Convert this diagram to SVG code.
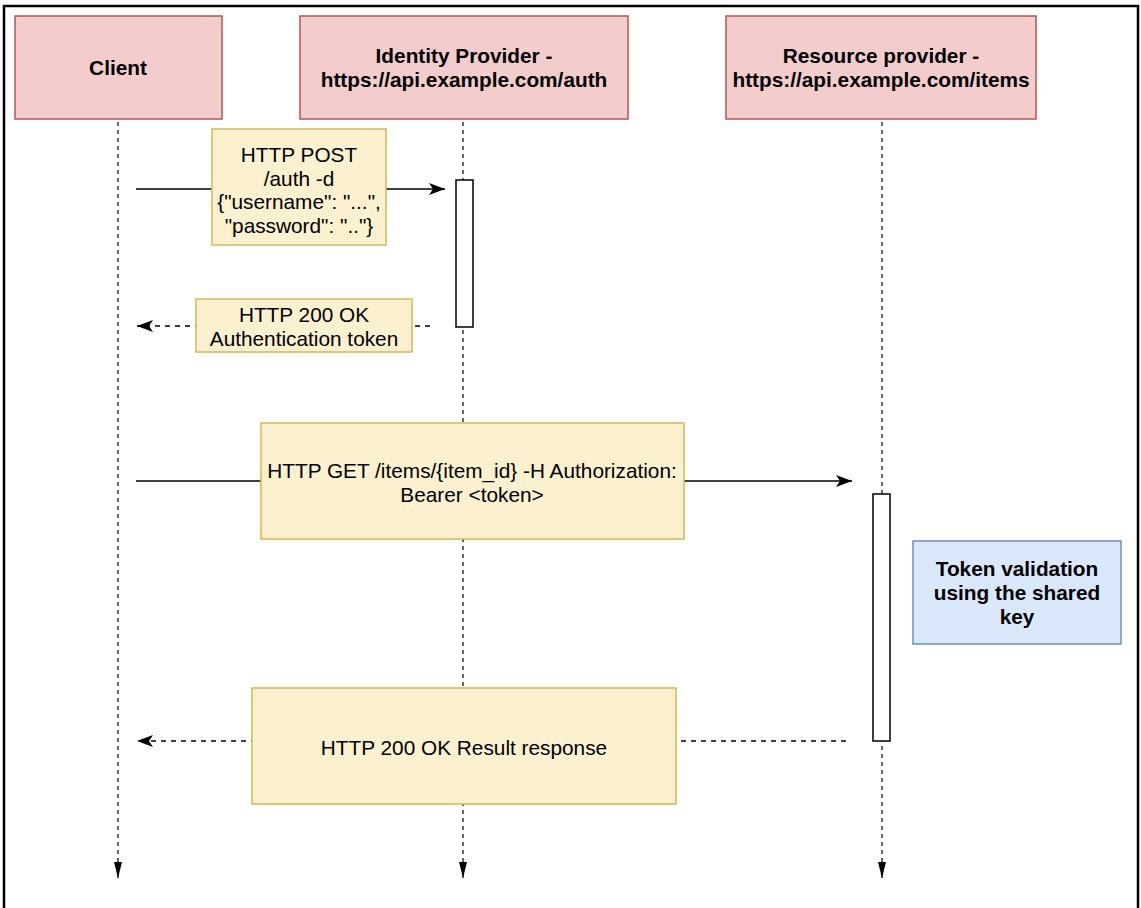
<svg xmlns="http://www.w3.org/2000/svg" width="1141" height="908" viewBox="0 0 1141 908">
<style>
.actor{fill:#f2cdcc;stroke:#b85450;stroke-width:1.5}
.note{fill:#fcf1cf;stroke:#d6b656;stroke-width:1.5}
.blue{fill:#dae8fc;stroke:#6c8ebf;stroke-width:1.5}
.act{fill:#fff;stroke:#000;stroke-width:1.5}
.life{stroke:#000;stroke-width:1.2;stroke-dasharray:4 4;fill:none}
.msg{stroke:#000;stroke-width:1.5;fill:none}
.ret{stroke:#000;stroke-width:1.5;stroke-dasharray:5 5;fill:none}
text{font-family:"Liberation Sans",Arial,sans-serif;font-size:20.8px;fill:#000;text-anchor:middle}
.b{font-weight:bold}
</style>
<defs>
<marker id="arr" markerWidth="18" markerHeight="14" refX="16" refY="7" orient="auto" markerUnits="userSpaceOnUse">
<path d="M0,1 L16,7 L0,13 L4,7 Z" fill="#000"/>
</marker>
<marker id="end" markerWidth="10" markerHeight="18" refX="5" refY="16" orient="0" markerUnits="userSpaceOnUse">
<path d="M1,0 L9,0 L5,16 Z" fill="#000"/>
</marker>
</defs>
<rect x="4" y="6" width="1134" height="910" fill="#fff" stroke="#000" stroke-width="2.5"/>
<g id="connectors">
<line class="life" x1="118" y1="122" x2="118" y2="878" marker-end="url(#end)"/>
<line class="life" x1="463" y1="122" x2="463" y2="878" marker-end="url(#end)"/>
<line class="life" x1="882" y1="122" x2="882" y2="878" marker-end="url(#end)"/>
<line class="msg" x1="136" y1="189" x2="445" y2="189" marker-end="url(#arr)"/>
<line class="ret" x1="430" y1="326" x2="137" y2="326" marker-end="url(#arr)"/>
<line class="msg" x1="136" y1="481" x2="852" y2="481" marker-end="url(#arr)"/>
<line class="ret" x1="846" y1="741" x2="137" y2="741" marker-end="url(#arr)"/>
</g>
<g id="client"><rect class="actor" x="15" y="16" width="207" height="103"/><text class="b" x="118" y="75">Client</text></g>
<g id="idp"><rect class="actor" x="300" y="16" width="328" height="103"/><text class="b" x="464" y="63">Identity Provider -</text><text class="b" x="464" y="87">https://api.example.com/auth</text></g>
<g id="rp"><rect class="actor" x="726" y="16" width="310" height="103"/><text class="b" x="881" y="63">Resource provider -</text><text class="b" x="881" y="87">https://api.example.com/items</text></g>
<g id="idp-activation"><rect class="act" x="456" y="180" width="17" height="147"/></g>
<g id="rp-activation"><rect class="act" x="873" y="494" width="17" height="247"/></g>
<g id="msg1"><rect class="note" x="212" y="129" width="174" height="116"/>
<text x="299" y="162">HTTP POST</text><text x="299" y="186">/auth -d</text><text x="299" y="209">{"username": "...",</text><text x="299" y="233">"password": ".."}</text></g>
<g id="msg2"><rect class="note" x="196" y="299" width="216" height="53"/>
<text x="304" y="322">HTTP 200 OK</text><text x="304" y="346">Authentication token</text></g>
<g id="msg3"><rect class="note" x="261" y="423" width="423" height="116"/>
<text x="472" y="478">HTTP GET /items/{item_id} -H Authorization:</text><text x="472" y="502">Bearer &lt;token&gt;</text></g>
<g id="validation"><rect class="blue" x="913" y="541" width="208" height="103"/>
<text class="b" x="1017" y="576">Token validation</text><text class="b" x="1017" y="600">using the shared</text><text class="b" x="1017" y="624">key</text></g>
<g id="msg4"><rect class="note" x="252" y="688" width="424" height="116"/>
<text x="464" y="755">HTTP 200 OK Result response</text></g>
</svg>
